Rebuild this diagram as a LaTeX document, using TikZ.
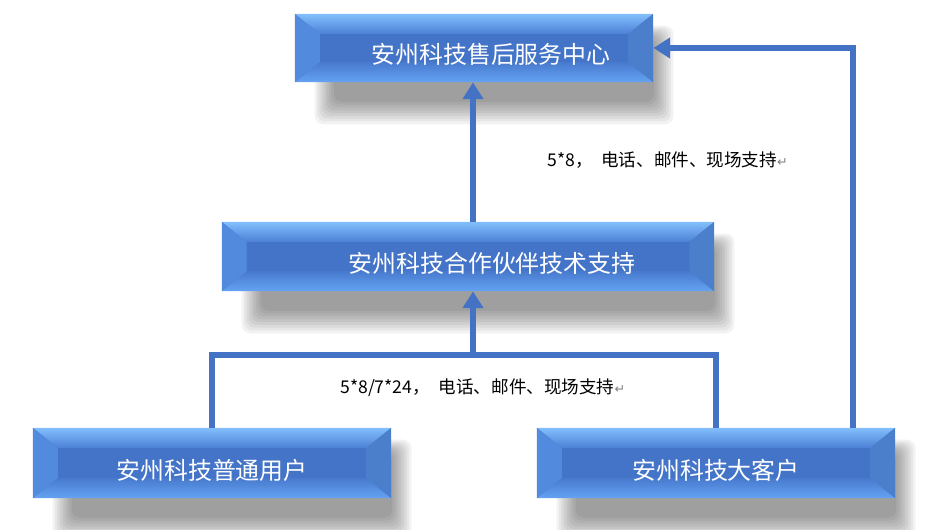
\documentclass[tikz,border=0pt]{standalone}
\usepackage{fontspec}
\setmainfont{Noto Sans CJK SC}
\newfontfamily\symfont{DejaVu Sans}
\usetikzlibrary{arrows.meta,positioning,calc,backgrounds}
\definecolor{BoxFace}{RGB}{68,116,200}
\definecolor{BevHi}{RGB}{130,190,252}
\definecolor{BevTop}{RGB}{76,128,214}
\definecolor{BevLo}{RGB}{72,122,206}
\definecolor{BevBot}{RGB}{100,162,242}
\definecolor{BevSide}{RGB}{82,138,222}
\definecolor{LinkBlue}{RGB}{68,114,196}
\newcommand\retmark{{\symfont\color{gray}\fontsize{9}{9}\selectfont ↵}}
\newcommand\boxtext[1]{\raisebox{-0.4cm}[0pt][0pt]{#1}}

\begin{document}
\begin{tikzpicture}[x=0.025cm,y=-0.025cm,
  bevel/.style={minimum width=8.95cm,minimum height=1.75cm,inner sep=0pt,
    text=white,font=\fontsize{17}{20}\selectfont,
    path picture={
      \fill[BoxFace] (path picture bounding box.south west) rectangle (path picture bounding box.north east);
      \shade[top color=BevHi,bottom color=BevTop]
        (path picture bounding box.north west) -- (path picture bounding box.north east)
        -- ([shift={(-0.62cm,-0.5cm)}]path picture bounding box.north east)
        -- ([shift={(0.62cm,-0.5cm)}]path picture bounding box.north west) -- cycle;
      \shade[top color=BevLo,bottom color=BevBot]
        (path picture bounding box.south west) -- (path picture bounding box.south east)
        -- ([shift={(-0.62cm,0.5cm)}]path picture bounding box.south east)
        -- ([shift={(0.62cm,0.5cm)}]path picture bounding box.south west) -- cycle;
      \fill[BevSide]
        (path picture bounding box.north west) -- ([shift={(0.62cm,-0.5cm)}]path picture bounding box.north west)
        -- ([shift={(0.62cm,0.5cm)}]path picture bounding box.south west) -- (path picture bounding box.south west) -- cycle;
      \fill[BevSide!92!black]
        (path picture bounding box.north east) -- ([shift={(-0.62cm,-0.5cm)}]path picture bounding box.north east)
        -- ([shift={(-0.62cm,0.5cm)}]path picture bounding box.south east) -- (path picture bounding box.south east) -- cycle;
    }},
  link/.style={draw=LinkBlue,line width=0.15cm},
  flow/.style={link,-{Triangle[length=0.42cm,width=0.5cm]}},
  lbl/.style={anchor=west,font=\fontsize{12.5}{15}\selectfont,inner sep=0pt}]
  \useasboundingbox (0,0) rectangle (928,530);

  % boxes
  \node[bevel,minimum height=1.7cm] (top) at (474,48) {\boxtext{\hspace*{0.85cm}安州科技售后服务中心}};
  \node[bevel,minimum width=12.3cm,minimum height=1.725cm] (mid) at (468,256.5) {\boxtext{\hspace*{1.2cm}安州科技合作伙伴技术支持}};
  \node[bevel] (usr) at (212,463) {\boxtext{安州科技普通用户}};
  \node[bevel] (vip) at (716,463) {\boxtext{安州科技大客户}};

  % shadows
  \begin{scope}[on background layer]
    \foreach \b in {top,mid,usr,vip}
      \foreach \i in {0,...,8}
        \fill[black,opacity=0.05,rounded corners=6pt]
          ([shift={(0.5cm+\i*0.06cm,-0.3cm-\i*0.04cm)}]\b.north west)
          rectangle ([shift={(0.5cm-\i*0.06cm,-1.05cm+\i*0.07cm)}]\b.south east);
  \end{scope}

  % connectors
  \coordinate (join) at (473,355);
  \draw[flow] (mid.north -| join) -- (top.south -| join);
  \draw[link] (usr.north) |- (vip.north |- join) -- (vip.north);
  \draw[flow] (join) -- (mid.south -| join);
  \draw[flow] ([xshift=-1.05cm]vip.north east) |- (top.east);

  % labels
  \node[lbl] (lblA) at (547,160) {5*8，\hspace{0.5em}电话、邮件、现场支持\retmark};
  \node[lbl] (lblB) at (340,388) {5*8/7*24，\hspace{0.5em}电话、邮件、现场支持\retmark};
\end{tikzpicture}
\end{document}
